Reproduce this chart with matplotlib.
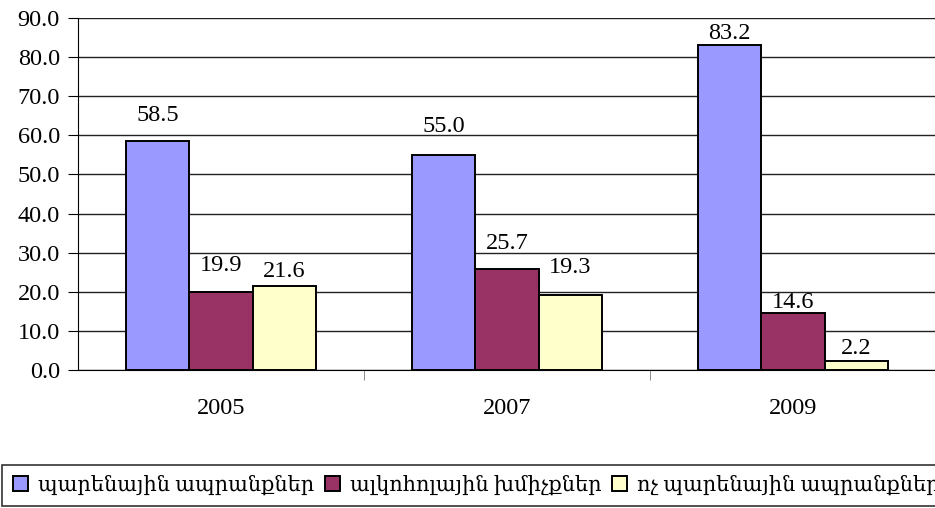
import numpy as np
import matplotlib.pyplot as plt

years = ['2005', '2007', '2009']
series_names = ['պարենային ապրանքներ', 'ալկոհոլային խմիչքներ', 'ոչ պարենային ապրանքներ']
food = [58.5, 55.0, 83.2]
alcohol = [19.9, 25.7, 14.6]
nonfood = [21.6, 19.3, 2.2]

colors = ['#9999FF', '#993366', '#FFFFCC']
# distance from bar top to label centre (pixels), as placed in the original
label_gaps = [[26, 28, 11], [27, 26, 10], [14, 27, 13]]

plt.rcParams['font.family'] = ['Liberation Serif', 'DejaVu Serif', 'DejaVu Sans']

fig = plt.figure(figsize=(9.35, 5.08), dpi=100)
ax = fig.add_axes([78 / 935, 138 / 508, 858 / 935, 352 / 508])

x = np.arange(len(years))
width = 0.221
all_series = [food, alcohol, nonfood]
for i, (vals, color, name, gaps) in enumerate(zip(all_series, colors, series_names, label_gaps)):
    bars = ax.bar(x + (i - 1) * width, vals, width, color=color, edgecolor='black',
                  linewidth=1.4, label=name, zorder=3)
    for b, v, g in zip(bars, vals, gaps):
        ax.annotate(f'{v:.1f}', (b.get_x() + b.get_width() / 2, v),
                    xytext=(0, g * 0.72), textcoords='offset points',
                    ha='center', va='center', fontsize=17.5)

ax.set_xlim(-0.5, 2.5)
ax.set_ylim(0, 90)
ax.set_yticks(np.arange(0, 91, 10))
ax.set_yticklabels([f'{v:.1f}' for v in np.arange(0, 91, 10)], fontsize=17.5)
ax.grid(axis='y', color='#222222', linewidth=1, zorder=0)

ax.set_xticks(x)
ax.set_xticklabels(years, fontsize=17.5)
ax.set_xticks([0.5, 1.5], minor=True)
ax.tick_params(axis='x', which='major', length=0, pad=20)
ax.tick_params(axis='x', which='minor', length=7, color='#777777', direction='out')
ax.tick_params(axis='y', length=7, direction='out', pad=6)

for s in ['top', 'right']:
    ax.spines[s].set_visible(False)
ax.spines['left'].set_color('black')
ax.spines['bottom'].set_color('black')

leg = fig.legend(loc='lower left', bbox_to_anchor=(0.0, 0.0), ncol=3, fontsize=15,
                 frameon=True, fancybox=False, edgecolor='black', handlelength=0.72,
                 handleheight=0.72, handletextpad=0.5, columnspacing=0.5,
                 borderpad=0.5, borderaxespad=0.1)
leg.get_frame().set_linewidth(1.2)

fig.savefig('out.png', dpi=100)
